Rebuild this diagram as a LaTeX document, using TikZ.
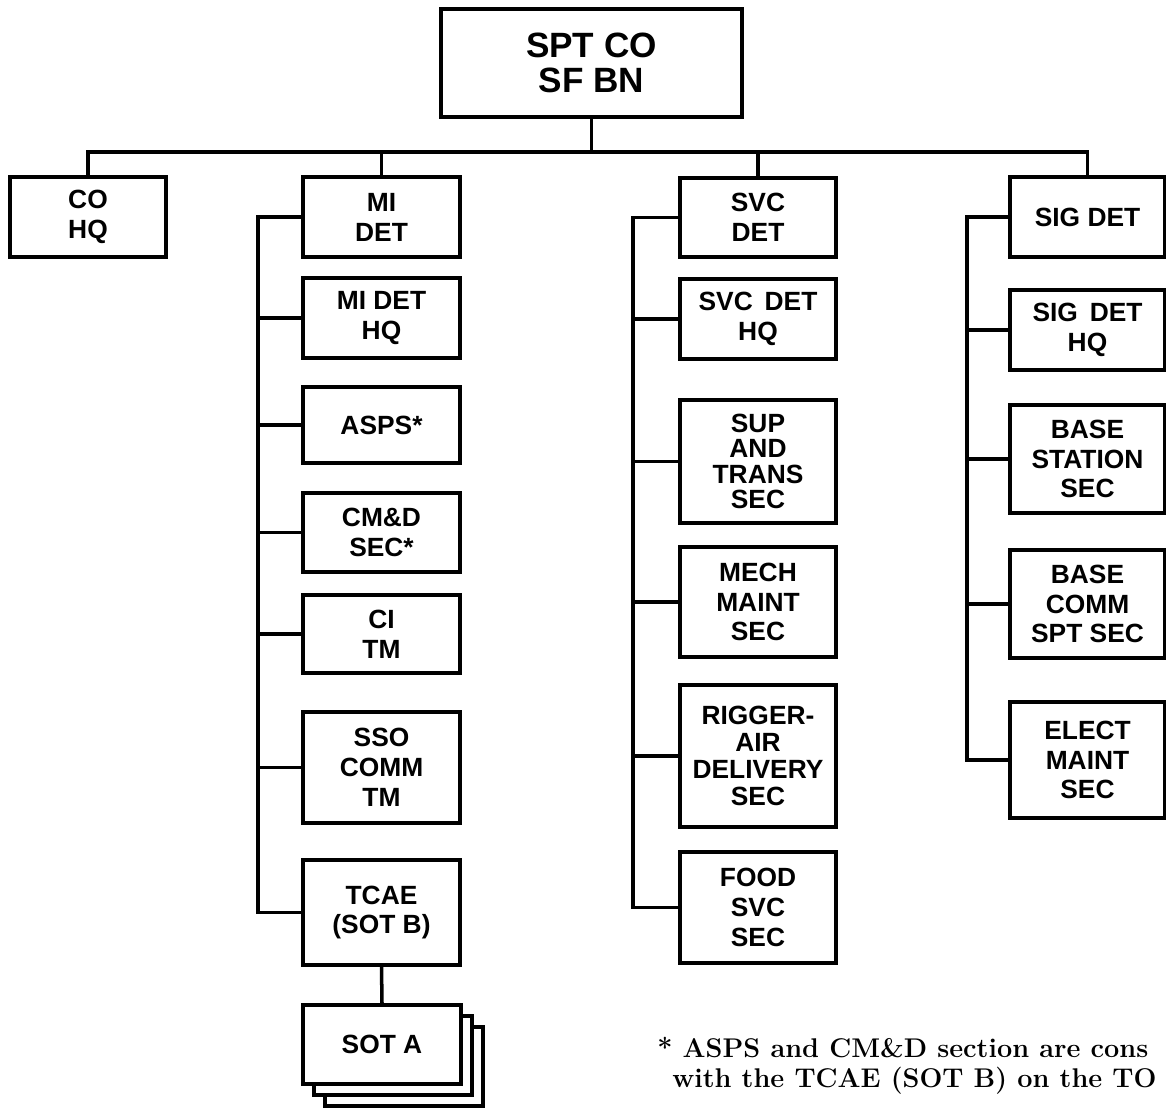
\documentclass[tikz,border=0pt]{standalone}
\usepackage{fontspec}
\newfontfamily\boxfont{Liberation Sans}
\tikzset{
  box/.style={draw, line width=2pt, rectangle, inner sep=0pt, align=center,
              font=\boxfont\bfseries\fontsize{15}{17}\selectfont},
  conn/.style={line width=2pt, line cap=rect},
  note/.style={anchor=base west, inner sep=0pt, font=\bfseries\fontsize{15.4}{18}\selectfont},
}
\newcommand\orgbox[7][]{%
  \node[box,#1, minimum width={(#5-#3)*0.02cm}, minimum height={(#6-#4)*0.02cm}]
    (#2) at ({(#3+#5)/2},{(#4+#6)/2}) {#7};}
\begin{document}
\begin{tikzpicture}[x=0.02cm,y=-0.02cm]
\useasboundingbox (0,0) rectangle (1166,1108);
\clip (0,0) rectangle (1166,1108);
% top
\orgbox[font=\boxfont\bfseries\fontsize{20}{20}\selectfont]{top}{441}{9}{742}{117}{SPT CO\\SF BN}
% first row
\orgbox{cohq}{10}{177}{166}{257}{CO\\HQ}
\orgbox{midet}{303}{177}{460}{257}{MI\\DET}
\orgbox{svcdet}{680}{178}{836}{257}{SVC\\DET}
\orgbox{sigdet}{1010}{177}{1165}{257}{SIG DET}
% MI column
\orgbox{midethq}{303}{278}{460}{358}{MI DET\\HQ}
\orgbox{asps}{303}{387}{460}{463}{ASPS*}
\orgbox{cmd}{303}{493}{460}{572}{CM\&D\\SEC*}
\orgbox{ci}{303}{595}{460}{673}{CI\\TM}
\orgbox{sso}{303}{712}{460}{823}{SSO\\COMM\\TM}
\orgbox{tcae}{303}{860}{460}{965}{TCAE\\(SOT B)}
% SOT A stack
\orgbox[fill=white]{sotc}{325}{1027}{483}{1106}{}
\orgbox[fill=white]{sotb}{314}{1016}{472}{1095}{}
\orgbox[fill=white]{sota}{303}{1005}{461}{1084}{SOT A}
% SVC column
\orgbox{svchq}{680}{279}{836}{359}{SVC\hspace{0.45em}DET\\HQ}
\orgbox[font=\boxfont\bfseries\fontsize{15}{14.4}\selectfont]{sup}{680}{400}{836}{523}{SUP\\AND\\TRANS\\SEC}
\orgbox{mech}{680}{547}{836}{657}{MECH\\MAINT\\SEC}
\orgbox[font=\boxfont\bfseries\fontsize{15}{15.5}\selectfont]{rigger}{680}{685}{836}{827}{RIGGER-\\AIR\\DELIVERY\\SEC}
\orgbox{food}{680}{852}{836}{963}{FOOD\\SVC\\SEC}
% SIG column
\orgbox{sighq}{1010}{290}{1165}{370}{SIG\hspace{0.45em}DET\\HQ}
\orgbox{basest}{1010}{405}{1165}{513}{BASE\\STATION\\SEC}
\orgbox{basecomm}{1010}{550}{1165}{658}{BASE\\COMM\\SPT SEC}
\orgbox{elect}{1010}{702}{1165}{818}{ELECT\\MAINT\\SEC}
% top connectors
\coordinate (bar) at (0,152);
\coordinate (mispine) at (258,0);
\coordinate (svcspine) at (633,0);
\coordinate (sigspine) at (967,0);
\draw[conn] (top.south) -- (top.south |- bar);
\draw[conn] (cohq.north) -- (cohq.north |- bar) -- (sigdet.north |- bar) -- (sigdet.north);
\draw[conn] (midet.north) -- (midet.north |- bar);
\draw[conn] (svcdet.north) -- (svcdet.north |- bar);
% MI spine
\draw[conn] (midet.west) -- (midet.west -| mispine) -- (tcae.west -| mispine) -- (tcae.west);
\foreach \n in {midethq,asps,cmd,ci,sso}
  \draw[conn] (\n.west) -- (\n.west -| mispine);
\draw[conn] (tcae.south) -- (sota.north);
% SVC spine
\draw[conn] (svcdet.west) -- (svcdet.west -| svcspine) -- (food.west -| svcspine) -- (food.west);
\foreach \n in {svchq,sup,mech,rigger}
  \draw[conn] (\n.west) -- (\n.west -| svcspine);
% SIG spine
\draw[conn] (sigdet.west) -- (sigdet.west -| sigspine) -- (elect.west -| sigspine) -- (elect.west);
\foreach \n in {sighq,basest,basecomm}
  \draw[conn] (\n.west) -- (\n.west -| sigspine);
% footnote (as far as the picture shows it)
\node[note] (fn1) at (657,1057) {* ASPS and CM\&D section are cons};
\node[note] (fn2) at (672,1087) {with the TCAE (SOT B) on the TO};
\end{tikzpicture}
\end{document}
